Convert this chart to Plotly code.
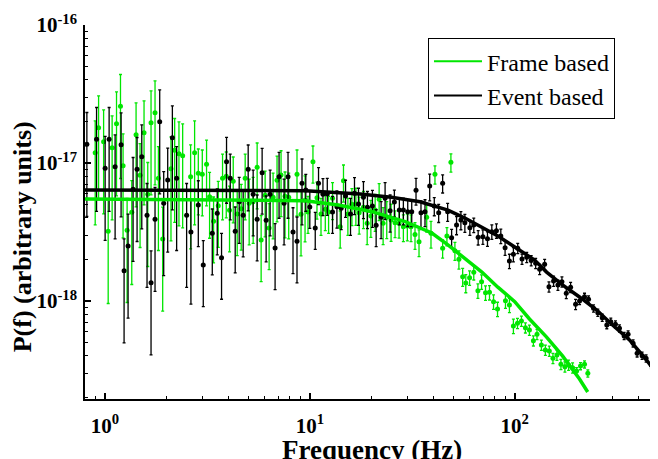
import math
import plotly.graph_objects as go

# ---------------- data ----------------
event_freq = [0.817, 0.911, 1.003, 1.049, 1.122, 1.200, 1.241, 1.298, 1.373, 1.436,
              1.514, 1.606, 1.680, 1.757, 1.852, 1.937, 2.026, 2.135, 2.240, 2.506,
              2.630, 2.857, 3.021, 3.343, 3.535, 3.710, 3.924, 4.090, 4.325, 4.523,
              4.730, 5.004, 5.292, 5.534, 5.853, 6.122, 6.403, 6.770, 7.080, 7.490,
              7.830, 8.280, 8.660, 9.160, 9.560, 10.00, 10.63, 11.03, 11.59, 12.17,
              12.91, 13.56, 14.23, 14.94, 15.80, 16.52, 17.28, 18.27, 19.11, 20.21,
              21.07, 22.28, 23.30, 24.65, 25.86, 27.35, 28.61, 30.05, 31.43, 32.98,
              34.87, 36.48, 38.46, 40.49, 42.54, 44.48, 47.05, 49.2, 52.0, 54.6,
              57.1, 60.4, 63.1, 66.3, 69.9, 73.6, 77.3, 81.4, 85.5, 89.7,
              94.2, 98.5, 103.4, 108.5, 114.4, 120.3, 126.5, 132.3, 139.9, 146.9,
              154.7, 162.4, 169.9, 178.4, 187.3, 198.1, 207.1, 219.0, 229.1, 242.3,
              254.3, 267.2, 281.3, 294.2, 310.0, 324.3, 341.8, 357.4, 378.0, 395.4,
              418.2, 437.4, 464.3, 485.4]
event_power = [13.66e-18, 14.85e-18, 9.16e-18, 14.85e-18, 9.40e-18, 13.57e-18, 1.658e-18, 2.503e-18, 6.45e-18, 9.00e-18,
               11.11e-18, 4.18e-18, 1.357e-18, 3.91e-18, 19.92e-18, 5.10e-18, 7.53e-18, 15.26e-18, 7.74e-18, 4.18e-18,
               3.16e-18, 4.96e-18, 1.824e-18, 3.094e-18, 4.32e-18, 2.060e-18, 10.22e-18, 7.74e-18, 3.199e-18, 5.24e-18,
               4.18e-18, 9.00e-18, 5.93e-18, 3.91e-18, 8.51e-18, 3.845e-18, 5.93e-18, 2.421e-18, 7.96e-18, 5.10e-18,
               7.96e-18, 3.16e-18, 2.708e-18, 7.13e-18, 6.37e-18, 4.80e-18, 3.381e-18, 7.13e-18, 5.93e-18, 5.96e-18,
               4.41e-18, 4.82e-18, 4.70e-18, 5.77e-18, 4.27e-18, 6.03e-18, 5.05e-18, 5.64e-18, 4.78e-18, 4.88e-18,
               3.536e-18, 4.04e-18, 5.55e-18, 4.51e-18, 5.22e-18, 4.56e-18, 4.56e-18, 4.44e-18, 4.44e-18, 6.35e-18,
               4.36e-18, 4.44e-18, 6.81e-18, 4.88e-18, 4.36e-18, 7.13e-18, 4.44e-18, 2.875e-18, 3.554e-18, 3.864e-18,
               3.694e-18, 3.397e-18, 3.554e-18, 2.894e-18, 2.923e-18, 2.828e-18, 3.178e-18, 3.232e-18, 2.958e-18, 2.433e-18,
               1.949e-18, 2.180e-18, 2.409e-18, 2.015e-18, 2.073e-18, 1.966e-18, 1.876e-18, 1.697e-18, 1.845e-18, 1.269e-18,
               1.396e-18, 1.306e-18, 1.380e-18, 1.137e-18, 1.257e-18, 0.946e-18, 1.000e-18, 1.074e-18, 1.029e-18, 0.885e-18,
               0.823e-18, 0.757e-18, 0.670e-18, 0.708e-18, 0.678e-18, 0.634e-18, 0.558e-18, 0.574e-18, 0.494e-18, 0.418e-18,
               0.4015e-18, 0.3844e-18, 0.3438e-18, 0.320e-18]

frame_freq = [0.897, 0.932, 0.986, 1.038, 1.085, 1.140, 1.192, 1.227, 1.284, 1.353,
              1.420, 1.485, 1.553, 1.619, 1.680, 1.757, 1.825, 1.915, 2.102, 2.191,
              2.299, 2.397, 2.621, 2.741, 2.857, 2.988, 3.135, 3.243, 3.392, 3.575,
              3.752, 3.911, 4.058, 4.230, 4.423, 4.626, 4.838, 5.060, 5.292, 5.534,
              5.788, 6.053, 6.331, 6.620, 6.920, 7.240, 7.570, 7.890, 8.660, 9.060,
              9.480, 9.800, 10.36, 10.84, 11.34, 11.90, 12.35, 12.91, 14.07, 14.60,
              15.34, 16.05, 16.78, 17.41, 18.27, 19.05, 19.86, 20.84, 21.79, 22.79,
              23.74, 24.92, 26.06, 27.26, 28.61, 29.92, 31.18, 32.61, 34.11, 37.19,
              39.02, 40.80, 44.48, 46.67, 48.81, 51.05, 53.4, 55.7, 57.7, 60.2,
              63.1, 66.1, 68.9, 72.0, 75.3, 78.8, 82.4, 90.1, 94.2, 98.5,
              103.1, 107.8, 112.7, 117.9, 123.3, 128.4, 134.9, 141.1, 147.5, 153.6,
              160.6, 168.0, 175.7, 183.1, 191.5, 200.3, 209.4, 219.0, 227.3]
frame_power = [11.88e-18, 18.02e-18, 14.27e-18, 3.199e-18, 12.91e-18, 19.27e-18, 25.75e-18, 9.56e-18, 3.253e-18, 4.39e-18,
               16.03e-18, 8.14e-18, 16.58e-18, 5.93e-18, 19.59e-18, 23.14e-18, 7.74e-18, 2.814e-18, 9.09e-18, 12.36e-18,
               11.68e-18, 11.29e-18, 7.96e-18, 11.88e-18, 8.42e-18, 8.28e-18, 9.78e-18, 5.70e-18, 3.782e-18, 4.90e-18,
               7.74e-18, 8.01e-18, 4.54e-18, 7.37e-18, 4.27e-18, 4.67e-18, 7.74e-18, 5.10e-18, 5.24e-18, 9.31e-18,
               2.767e-18, 5.83e-18, 3.381e-18, 5.64e-18, 7.49e-18, 8.18e-18, 5.74e-18, 5.64e-18, 8.28e-18, 4.25e-18,
               5.37e-18, 4.41e-18, 10.22e-18, 5.60e-18, 4.27e-18, 4.62e-18, 4.41e-18, 5.55e-18, 3.454e-18, 7.44e-18,
               4.27e-18, 5.02e-18, 5.05e-18, 4.36e-18, 4.78e-18, 3.656e-18, 4.13e-18, 4.56e-18, 5.46e-18, 3.656e-18,
               4.04e-18, 3.864e-18, 3.694e-18, 3.656e-18, 3.454e-18, 3.495e-18, 3.454e-18, 3.033e-18, 2.690e-18, 4.04e-18,
               3.094e-18, 8.28e-18, 2.409e-18, 2.958e-18, 10.12e-18, 2.314e-18, 2.005e-18, 1.500e-18, 1.350e-18, 1.475e-18,
               1.614e-18, 1.187e-18, 1.380e-18, 1.148e-18, 1.156e-18, 0.988e-18, 0.875e-18, 1.005e-18, 0.935e-18, 0.659e-18,
               0.689e-18, 0.716e-18, 0.641e-18, 0.616e-18, 0.516e-18, 0.574e-18, 0.480e-18, 0.4416e-18, 0.434e-18, 0.3844e-18,
               0.406e-18, 0.348e-18, 0.334e-18, 0.3438e-18, 0.3286e-18, 0.311e-18, 0.338e-18, 0.348e-18, 0.2992e-18]

# fitted model curves
event_fit_freq = [0.8, 2.93, 9.51, 17.6, 25.0, 34.5, 47.2, 57.1, 69.1, 82.7, 100, 125, 143, 171,
                  207, 251, 300, 363, 439, 500]
event_fit_power = [6.37e-18, 6.37e-18, 6.30e-18, 5.96e-18, 5.65e-18, 5.24e-18, 4.56e-18, 3.99e-18,
                   3.44e-18, 2.96e-18, 2.46e-18, 1.98e-18, 1.62e-18, 1.31e-18, 1.07e-18, 0.86e-18,
                   0.67e-18, 0.522e-18, 0.374e-18, 0.291e-18]
frame_fit_freq = [0.8, 2.93, 9.51, 13.8, 20.1, 29.2, 39.4, 47.2, 57.1, 69.1, 82.7, 100, 118, 143,
                  171, 207, 227]
frame_fit_power = [5.48e-18, 5.44e-18, 5.33e-18, 4.96e-18, 4.44e-18, 3.76e-18, 3.11e-18, 2.55e-18,
                   2.05e-18, 1.62e-18, 1.26e-18, 0.99e-18, 0.741e-18, 0.548e-18, 0.40e-18,
                   0.272e-18, 0.219e-18]

# relative 1-sigma error bar size, read per frequency band (upper edge of band in Hz)
err_band_upper_freq = [2.8, 9.5, 25, 40, 60, 100, 200, 1000]
err_band_rel = [0.70, 0.50, 0.30, 0.22, 0.15, 0.12, 0.085, 0.06]

series_names = ["Frame based", "Event based"]
x_tick_values = [1, 10, 100]
x_tick_labels = ["<b>10<sup>0</sup></b>", "<b>10<sup>1</sup></b>", "<b>10<sup>2</sup></b>"]
y_tick_values = [1e-18, 1e-17, 1e-16]
y_tick_labels = ["<b>10<sup>-18</sup></b>", "<b>10<sup>-17</sup></b>", "<b>10<sup>-16</sup></b>"]
x_title = "<b>Frequency (Hz)</b>"
y_title = "<b>P(f) (arbitrary units)</b>"

# ---------------- figure ----------------
SERIF = "Liberation Serif"
GREEN = "#00e600"
BLACK = "#000000"


def rel_err(f):
    for edge, r in zip(err_band_upper_freq, err_band_rel):
        if f <= edge:
            return r
    return err_band_rel[-1]


fig = go.Figure()

for freq, power, color in [(frame_freq, frame_power, GREEN), (event_freq, event_power, BLACK)]:
    errs = [p * rel_err(f) for f, p in zip(freq, power)]
    fig.add_trace(go.Scatter(
        x=freq, y=power, mode="markers",
        marker=dict(color=color, size=5),
        error_y=dict(type="data", array=errs, symmetric=True, color=color,
                     thickness=1.3, width=1.5),
        showlegend=False, hoverinfo="skip"))

fig.add_trace(go.Scatter(x=frame_fit_freq, y=frame_fit_power, mode="lines",
                         line=dict(color=GREEN, width=3.5), showlegend=False))
fig.add_trace(go.Scatter(x=event_fit_freq, y=event_fit_power, mode="lines",
                         line=dict(color=BLACK, width=3.5), showlegend=False))

# legend entries (thin line samples as in the reference)
for name, color in zip(series_names, [GREEN, BLACK]):
    fig.add_trace(go.Scatter(x=[None], y=[None], mode="lines", name=name,
                             line=dict(color=color, width=2)))

x_minor = [m * 10 ** k for k in range(-1, 3) for m in range(2, 10)]
y_minor = [m * 10.0 ** k for k in range(-19, -16) for m in range(2, 10)]

axis_common = dict(
    showline=True, linecolor="black", linewidth=1.5, mirror=False,
    showgrid=False, zeroline=False, automargin=False,
    ticks="inside", ticklen=6, tickwidth=1.5, tickcolor="black",
    tickfont=dict(family=SERIF, size=21, color="black"),
)

# the page body has an 8 px default margin, so the figure is 8 px smaller and
# all margins are 8 px tighter to land the plot area where the reference has it
fig.update_layout(
    width=650, height=451,
    margin=dict(l=77, r=0, t=17, b=60, autoexpand=False),
    paper_bgcolor="white", plot_bgcolor="white",
    font=dict(family=SERIF, color="black"),
    xaxis=dict(type="log", range=[math.log10(0.8), math.log10(500)],
               tickmode="array", tickvals=x_tick_values, ticktext=x_tick_labels,
               ticklabelstandoff=7,
               minor=dict(tickmode="array", tickvals=x_minor, ticks="inside",
                          ticklen=3, tickwidth=1, tickcolor="black", showgrid=False),
               **axis_common),
    yaxis=dict(type="log", range=[-18.71, -16],
               tickmode="array", tickvals=y_tick_values, ticktext=y_tick_labels,
               ticklabelstandoff=2,
               minor=dict(tickmode="array", tickvals=y_minor, ticks="inside",
                          ticklen=3, tickwidth=1, tickcolor="black", showgrid=False),
               **axis_common),
    legend=dict(x=0.5986, y=0.965, xanchor="left", yanchor="top",
                bordercolor="black", borderwidth=1, bgcolor="white",
                font=dict(family=SERIF, size=24, color="black"),
                itemwidth=48, tracegroupgap=0),
    annotations=[
        dict(text=x_title, xref="paper", yref="paper", x=0.50, y=-0.137,
             xanchor="center", yanchor="middle", showarrow=False,
             font=dict(family=SERIF, size=27, color="black")),
        dict(text=y_title, xref="paper", yref="paper", x=-0.1095, y=0.433,
             xanchor="center", yanchor="middle", textangle=-90, showarrow=False,
             font=dict(family=SERIF, size=26, color="black")),
    ],
)

fig.write_html("out.html")
